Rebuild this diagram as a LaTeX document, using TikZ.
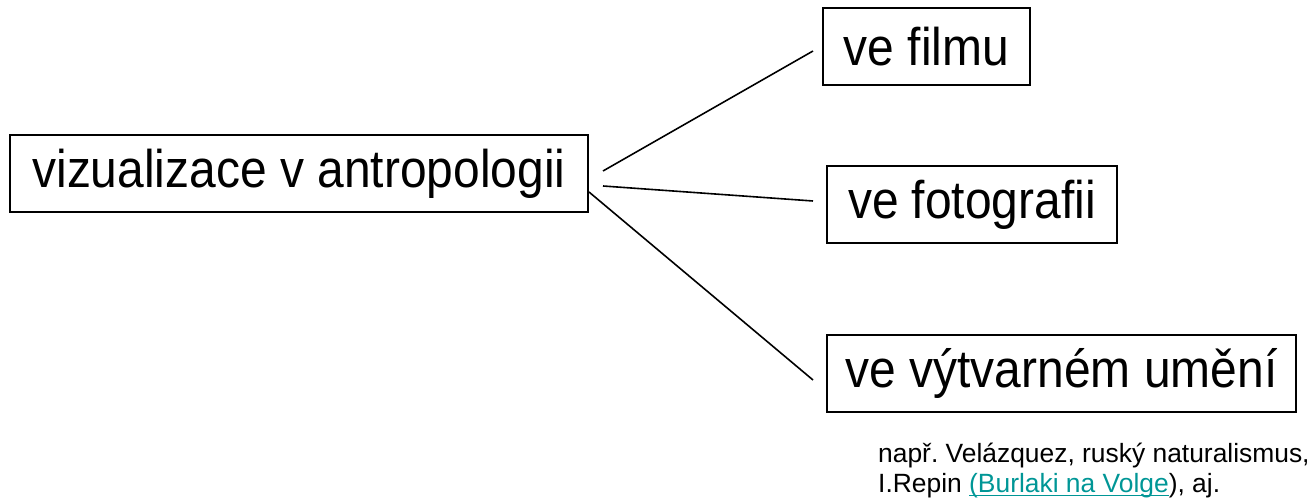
\documentclass[tikz,border=0pt]{standalone}
\usepackage{fontspec}
\setmainfont{Liberation Sans}
\newfontfamily\boxfont[FakeStretch=0.905]{Liberation Sans}
\frenchspacing
\definecolor{linkteal}{RGB}{0,150,150}
\newsavebox{\lkbox}
\newcommand{\linkul}[1]{{\color{linkteal}\sbox{\lkbox}{#1}\rlap{\rule[-3.5pt]{\wd\lkbox}{1.6pt}}\usebox{\lkbox}}}
\tikzset{
  catbox/.style={draw=black, line width=2pt, minimum height=77pt, inner sep=0pt, font=\boxfont\fontsize{53}{60}\selectfont},
  conn/.style={draw=black, line width=1.6pt},
  note/.style={font=\fontsize{26.4}{30}\selectfont, align=left, inner sep=0pt}
}
\begin{document}
\begin{tikzpicture}[x=1pt,y=-1pt]
\useasboundingbox (0,0) rectangle (1314,502);
\node[catbox, minimum width=578pt] (main) at (299,174) {vizualizace v antropologii};
\node[catbox, minimum width=207pt] (film) at (926.5,46.5) {ve filmu};
\node[catbox, minimum width=290pt] (foto) at (972,204.5) {ve fotografii};
\node[catbox, minimum width=469pt] (umeni) at (1061.5,373.5) {ve výtvarném umění};
\coordinate (s1) at (603,171);
\coordinate (e1) at (813,51);
\coordinate (s2) at (603,186);
\coordinate (e2) at (813,201);
\coordinate (s3) at (main.east |- 0,192);
\coordinate (e3) at (813,380);
\draw[conn] (s1) -- (e1);
\draw[conn] (s2) -- (e2);
\draw[conn] (s3) -- (e3);
\node[note, anchor=north west] (ex) at (878,443) {např. Velázquez, ruský naturalismus,\\I.Repin \linkul{(Burlaki na Volge}), aj.};
\end{tikzpicture}
\end{document}
